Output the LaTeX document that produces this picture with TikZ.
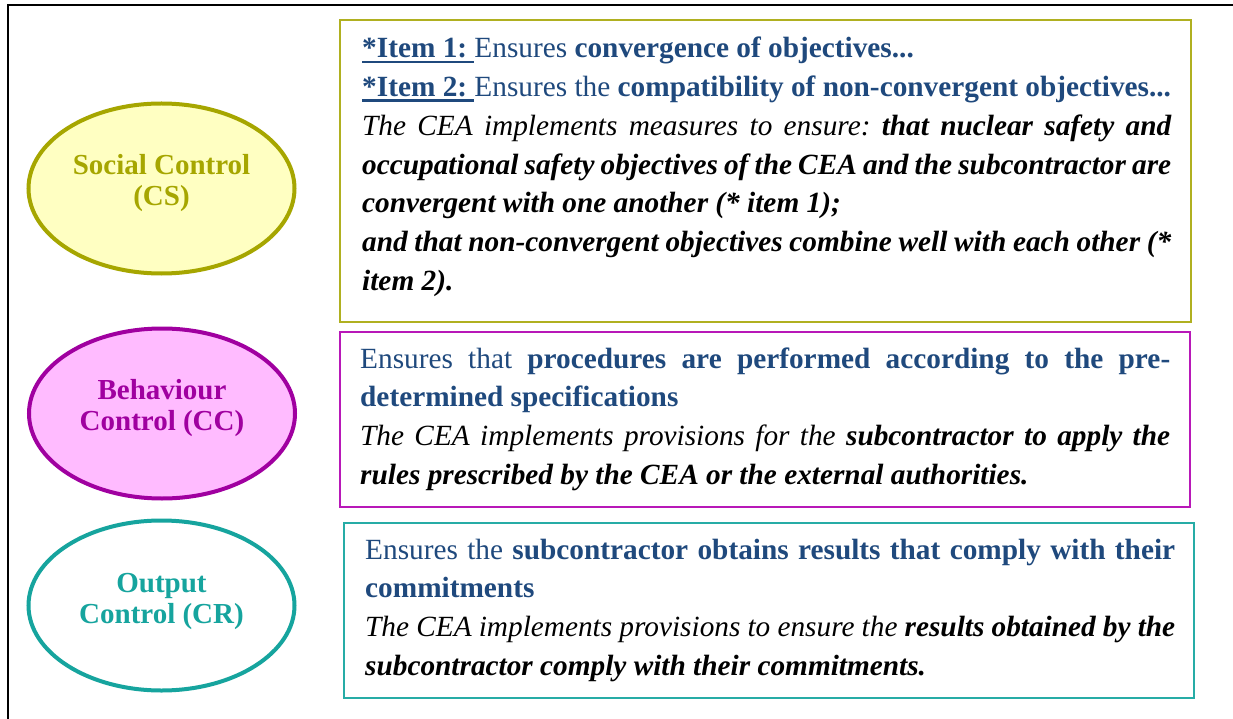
\documentclass[tikz,border=0pt]{standalone}
\usepackage{fontspec}
\setmainfont{Liberation Serif}
\usetikzlibrary{shapes.geometric}
\definecolor{tblue}{HTML}{1F497D}
\definecolor{olive}{HTML}{A6A600}
\definecolor{olivebox}{HTML}{B0B020}
\definecolor{lyellow}{HTML}{FFFFC2}
\definecolor{purp}{HTML}{A000A0}
\definecolor{purpbox}{HTML}{B818B8}
\definecolor{lpink}{HTML}{FFBBFF}
\definecolor{teal}{HTML}{16A49E}
\definecolor{tealbox}{HTML}{26ACA6}
\newlength\ulw
\newcommand\myul[1]{\settowidth\ulw{#1}\rlap{\rule[-5pt]{\ulw}{2.2pt}}#1}
\frenchspacing
\tikzset{
  ctrl/.style={ellipse, line width=4pt, minimum width=266pt, minimum height=170pt, inner sep=0pt},
  ctrltext/.style={font=\fontsize{29}{31}\selectfont\bfseries, align=center},
  boxtext/.style={anchor=base west, inner sep=0pt, text width=#1, align=justify,
    font=\fontsize{29.3}{38.7}\selectfont\frenchspacing},
  frame/.style={line width=2.2pt},
}
\begin{document}
\begin{tikzpicture}[x=1pt,y=-1pt]
\useasboundingbox (0,0) rectangle (1233,719);
\fill[white] (0,0) rectangle (1233,719);
\draw[frame] (8,719) -- (8,5) -- (1233,5);
% ellipses
\node[ctrl, draw=olive, fill=lyellow] (cs) at (161.5,188.5) {};
\node[ctrltext, text=olive] (cst) at (161.5,183.5) {Social Control\\(CS)};
\node[ctrl, draw=purp, fill=lpink] (cc) at (162,413.5) {};
\node[ctrltext, text=purp] (cct) at (162,408.5) {Behaviour\\Control (CC)};
\node[ctrl, draw=teal, fill=white] (cr) at (161.5,605.5) {};
\node[ctrltext, text=teal] (crt) at (161.5,601) {Output\\Control (CR)};
% boxes
\draw[olivebox, line width=2pt] (340,20) rectangle (1191,322);
\draw[purpbox, line width=2pt] (340,332) rectangle (1190,507);
\draw[tealbox, line width=2pt] (344,523) rectangle (1194,698);
% box texts
\node[boxtext=809pt] (t1) at (362,58) {%
\color{tblue}\textbf{\myul{*Item 1:\ }}Ensures \textbf{convergence of objectives...}\par
\textbf{\myul{*Item 2:\ }}Ensures the \textbf{compatibility of non-convergent objectives...}\par
\color{black}\itshape The CEA implements measures to ensure: \textbf{that nuclear safety and\linebreak occupational safety objectives of the CEA and the subcontractor are\linebreak convergent with one another (* item 1);}\par
\textbf{and that non-convergent objectives combine well with each other (*\linebreak item 2).}};
\node[boxtext=810pt] (t2) at (360,368) {%
\color{tblue}Ensures that \textbf{procedures are performed according to the pre-\linebreak{}determined specifications}\par
\color{black}\itshape The CEA implements provisions for the \textbf{subcontractor to apply the\linebreak rules prescribed by the CEA or the external authorities.}};
\node[boxtext=810pt] (t3) at (365,559) {%
\color{tblue}Ensures the \textbf{subcontractor obtains results that comply with their\linebreak commitments}\par
\color{black}\itshape The CEA implements provisions to ensure the \textbf{results obtained by the\linebreak subcontractor comply with their commitments.}};
\end{tikzpicture}
\end{document}
